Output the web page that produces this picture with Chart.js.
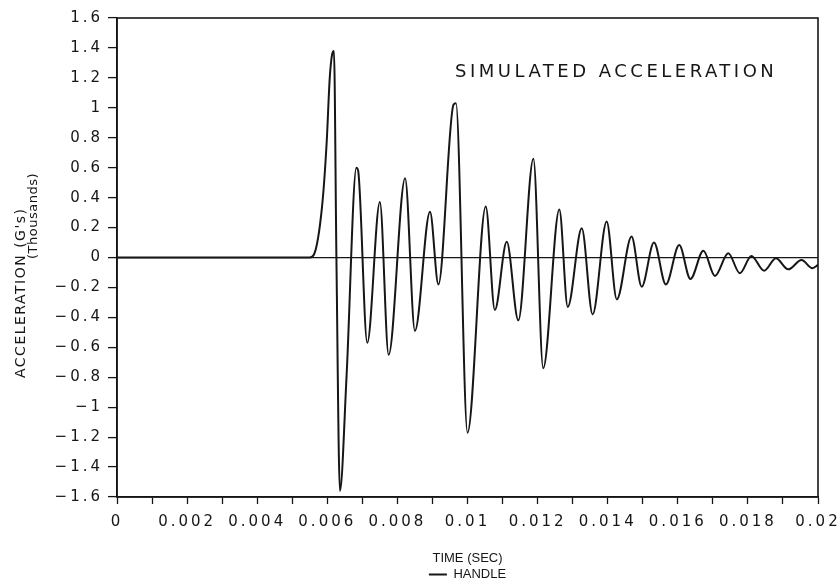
<!DOCTYPE html>
<html>
<head>
<meta charset="utf-8">
<title>Simulated acceleration</title>
<script src="https://cdn.jsdelivr.net/npm/chart.js@4.4.1/dist/chart.umd.min.js"></script>
<style>
  html, body { margin: 0; padding: 0; background: #fff; }
  #wrap { width: 838px; height: 581px; }
</style>
</head>
<body>
<div id="wrap"><canvas id="accChart" width="838" height="581"></canvas></div>
<script>
// ---- data (time in seconds, acceleration in thousands of G's) ----
const times = [
  0, 0.0055, 0.00562, 0.00585, 0.00598, 0.00607, 0.00614, 0.00619, 0.00626, 0.00636,
  0.00655, 0.00683, 0.00688, 0.00714, 0.0075, 0.00775, 0.00822, 0.0085, 0.00893, 0.00917,
  0.0096, 0.00967, 0.0100, 0.01052, 0.01078, 0.01112, 0.01145, 0.01188, 0.01216, 0.01262,
  0.01286, 0.01326, 0.01357, 0.01397, 0.01426, 0.01468, 0.01497, 0.01532, 0.01566, 0.01604,
  0.01636, 0.01673, 0.01706, 0.01744, 0.01777, 0.0181, 0.01846, 0.0188, 0.01915, 0.01953,
  0.01984, 0.02
];
const accel = [
  0, 0, 0.02, 0.34, 0.76, 1.2, 1.36, 1.38, 0.0, -1.56,
  -0.79, 0.6, 0.58, -0.57, 0.37, -0.65, 0.53, -0.49, 0.305, -0.18,
  1.02, 1.03, -1.17, 0.34, -0.35, 0.105, -0.42, 0.66, -0.74, 0.32,
  -0.33, 0.195, -0.38, 0.24, -0.28, 0.14, -0.195, 0.1, -0.18, 0.083,
  -0.143, 0.045, -0.123, 0.028, -0.105, 0.01, -0.088, -0.005, -0.079, -0.017,
  -0.072, -0.05
];
const seriesName = 'HANDLE';
const chartTitle = 'SIMULATED ACCELERATION';
const xTitle = 'TIME (SEC)';

// one label per 0.001 s tick, only every other one is printed
const xTickLabels = ['0', '', '0.002', '', '0.004', '', '0.006', '', '0.008', '', '0.01', '',
  '0.012', '', '0.014', '', '0.016', '', '0.018', '', '0.02'];
const yTickLabels = ['1.6', '1.4', '1.2', '1', '0.8', '0.6', '0.4', '0.2', '0',
  '\u22120.2', '\u22120.4', '\u22120.6', '\u22120.8', '\u22121', '\u22121.2', '\u22121.4', '\u22121.6'];

const ink = '#161616';
const tickFont = { family: '"DejaVu Sans", sans-serif', size: 15 };
const captionFont = { family: '"Liberation Sans", sans-serif', size: 13 };

// run a method with no letter spacing (caption texts are not spaced out)
function unspaced(obj, name) {
  if (!obj || obj['_unspaced_' + name]) return;
  const orig = obj[name];
  obj[name] = function () {
    const c = this.ctx;
    const keep = c.letterSpacing;
    c.letterSpacing = '0px';
    const r = orig.apply(this, arguments);
    c.letterSpacing = keep;
    return r;
  };
  obj['_unspaced_' + name] = true;
}

// frame, inside title and the two-line y-axis caption
const framePlugin = {
  id: 'frame',
  beforeUpdate(chart) {
    chart.ctx.letterSpacing = '3px';
    unspaced(chart.legend, 'fit');
  },
  beforeDraw(chart) {
    chart.ctx.letterSpacing = '3px';
    unspaced(chart.scales.x, 'drawTitle');
    unspaced(chart.legend, 'draw');
  },
  afterDraw(chart) {
    const { ctx, chartArea: a } = chart;
    ctx.save();
    ctx.strokeStyle = ink;
    ctx.lineWidth = 1.6;
    ctx.strokeRect(a.left, a.top, a.width, a.height);

    ctx.fillStyle = ink;
    ctx.textBaseline = 'middle';
    ctx.textAlign = 'left';
    ctx.font = '18px "DejaVu Sans"';
    ctx.letterSpacing = '3.5px';
    ctx.fillText(chartTitle, 455, 72);

    ctx.font = '14px "DejaVu Sans"';
    ctx.letterSpacing = '1.5px';
    ctx.save();
    ctx.translate(21, 378);
    ctx.rotate(-Math.PI / 2);
    ctx.fillText("ACCELERATION (G's)", 0, 0);
    ctx.restore();
    ctx.font = '13px "DejaVu Sans"';
    ctx.letterSpacing = '0.5px';
    ctx.save();
    ctx.translate(34, 259);
    ctx.rotate(-Math.PI / 2);
    ctx.fillText('(Thousands)', 0, 0);
    ctx.restore();
    ctx.restore();
  }
};

const points = times.map((t, i) => ({ x: t, y: accel[i] }));

new Chart(document.getElementById('accChart'), {
  type: 'line',
  data: {
    datasets: [{
      label: seriesName,
      data: points,
      borderColor: ink,
      borderWidth: 2,
      pointRadius: 0,
      fill: false,
      cubicInterpolationMode: 'monotone'
    }]
  },
  options: {
    responsive: false,
    animation: false,
    layout: { padding: { left: 0, top: 18, right: 20, bottom: 0 } },
    plugins: {
      legend: {
        position: 'bottom',
        fullSize: false,
        maxHeight: 13,
        labels: {
          color: ink,
          font: captionFont,
          usePointStyle: true,
          pointStyle: 'line',
          pointStyleWidth: 18,
          padding: 0
        }
      },
      tooltip: { enabled: false }
    },
    scales: {
      x: {
        type: 'linear',
        min: 0,
        max: 0.02,
        afterFit(scale) {
          scale.height = 71;
          scale.paddingLeft = 0;
          scale.paddingRight = 0;
        },
        border: { display: true, color: ink, width: 1.6 },
        grid: { drawOnChartArea: false, tickLength: 7, tickColor: ink, tickWidth: 1.3 },
        ticks: {
          stepSize: 0.001,
          autoSkip: false,
          maxRotation: 0,
          padding: 9,
          color: ink,
          font: tickFont,
          callback: v => xTickLabels[Math.round(v / 0.001)]
        },
        title: {
          display: true,
          text: xTitle,
          color: ink,
          font: captionFont,
          padding: { top: 0, bottom: 2 }
        }
      },
      y: {
        min: -1.6,
        max: 1.6,
        afterFit(scale) { scale.width = 117; },
        border: { display: true, color: ink, width: 1.6 },
        grid: {
          drawOnChartArea: true,
          color: c => (c.tick && Math.abs(c.tick.value) < 1e-9) ? ink : 'rgba(0,0,0,0)',
          lineWidth: 1.2,
          tickLength: 9,
          tickColor: ink,
          tickWidth: 1.3
        },
        ticks: {
          stepSize: 0.2,
          autoSkip: false,
          padding: 5,
          color: ink,
          font: tickFont,
          callback: v => yTickLabels[Math.round((1.6 - v) / 0.2)]
        }
      }
    }
  },
  plugins: [framePlugin]
});
</script>
</body>
</html>
